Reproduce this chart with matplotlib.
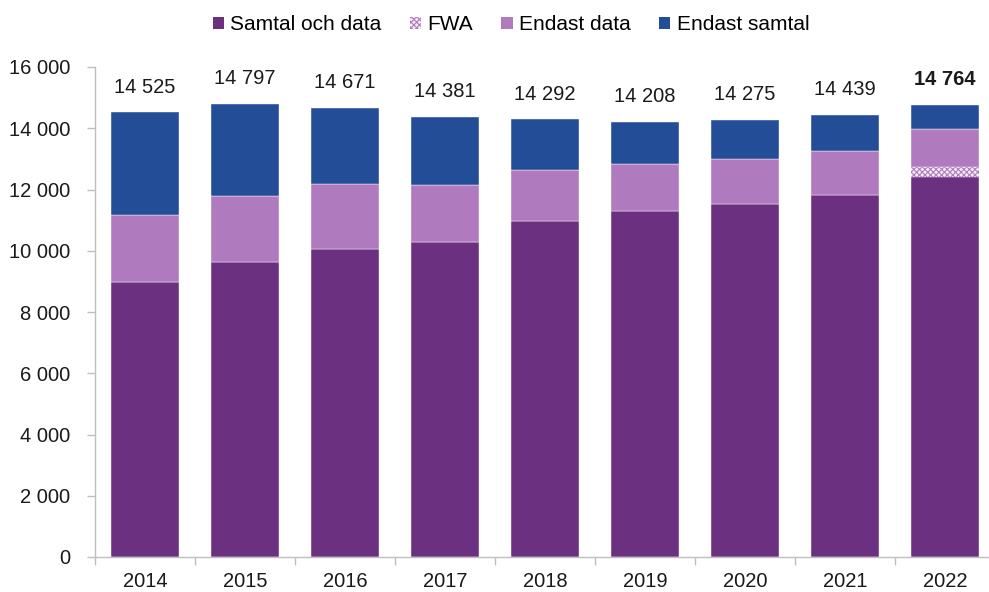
import matplotlib
matplotlib.use("Agg")
import matplotlib.pyplot as plt
from matplotlib.patches import Patch
from matplotlib.ticker import FuncFormatter, MultipleLocator
import numpy as np

years = ["2014", "2015", "2016", "2017", "2018", "2019", "2020", "2021", "2022"]
samtal_och_data = [8980, 9630, 10060, 10290, 10970, 11300, 11530, 11820, 12410]
fwa = [0, 0, 0, 0, 0, 0, 0, 0, 320]
endast_data = [2190, 2160, 2120, 1860, 1670, 1530, 1470, 1440, 1250]
endast_samtal = [3355, 3007, 2491, 2231, 1652, 1378, 1275, 1179, 784]
totals = [14525, 14797, 14671, 14381, 14292, 14208, 14275, 14439, 14764]

c_purple = "#6C3080"
c_light = "#B07ABE"
c_blue = "#234D96"

plt.rcParams["font.family"] = ["Liberation Sans", "DejaVu Sans"]
plt.rcParams["hatch.linewidth"] = 0.8

fs = 14.5

fig = plt.figure(figsize=(9.89, 5.92), dpi=100)
ax = fig.add_axes([95 / 989, 35 / 592, 900 / 989, 490 / 592])

x = np.arange(len(years))
w = 0.68
b1 = np.array(samtal_och_data, dtype=float)
b2 = b1 + np.array(fwa)
b3 = b2 + np.array(endast_data)

ax.bar(x, samtal_och_data, w, color=c_purple, edgecolor="white", linewidth=0.3, zorder=2)
ax.bar(x, fwa, w, bottom=b1, facecolor="#F4ECF6", edgecolor=c_light, hatch="xxxxxx",
       linewidth=0, zorder=2)
ax.bar(x, endast_data, w, bottom=b2, color=c_light, edgecolor="white", linewidth=0.3, zorder=2)
ax.bar(x, endast_samtal, w, bottom=b3, color=c_blue, edgecolor="white", linewidth=0.3, zorder=2)

for i, t in enumerate(totals):
    label = f"{t:,}".replace(",", " ")
    ax.annotate(label, (x[i], t), xytext=(0, 14), textcoords="offset points",
                ha="center", va="baseline", fontsize=fs,
                fontweight="bold" if i == len(totals) - 1 else "normal", color="#1a1a1a")

ax.set_xlim(-0.5, len(years) - 0.5)
ax.set_ylim(0, 16000)
ax.yaxis.set_major_locator(MultipleLocator(2000))
ax.yaxis.set_major_formatter(FuncFormatter(lambda v, p: f"{int(v):,}".replace(",", " ")))
ax.set_xticks(x)
ax.set_xticklabels(years)
ax.set_xticks(np.arange(-0.5, len(years), 1), minor=True)
ax.tick_params(axis="x", which="major", length=0, pad=11, labelsize=fs, colors="#1a1a1a")
ax.tick_params(axis="x", which="minor", length=6, color="#BFBFBF", width=1)
ax.tick_params(axis="y", length=6, color="#BFBFBF", width=1, pad=12, labelsize=fs,
               labelcolor="#1a1a1a")

for s in ["top", "right"]:
    ax.spines[s].set_visible(False)
for s in ["left", "bottom"]:
    ax.spines[s].set_color("#BFBFBF")
    ax.spines[s].set_linewidth(1)

handles = [
    Patch(facecolor=c_purple, label="Samtal och data"),
    Patch(facecolor="#F4ECF6", edgecolor=c_light, hatch="xxxxxx", linewidth=0, label="FWA"),
    Patch(facecolor=c_light, label="Endast data"),
    Patch(facecolor=c_blue, label="Endast samtal"),
]
fig.legend(handles=handles, loc="center", bbox_to_anchor=(511 / 989, 1 - 25 / 592),
           ncol=4, frameon=False, fontsize=15, handlelength=0.55, handleheight=0.55,
           handletextpad=0.3, columnspacing=1.35)

fig.savefig("out.png", dpi=100)
